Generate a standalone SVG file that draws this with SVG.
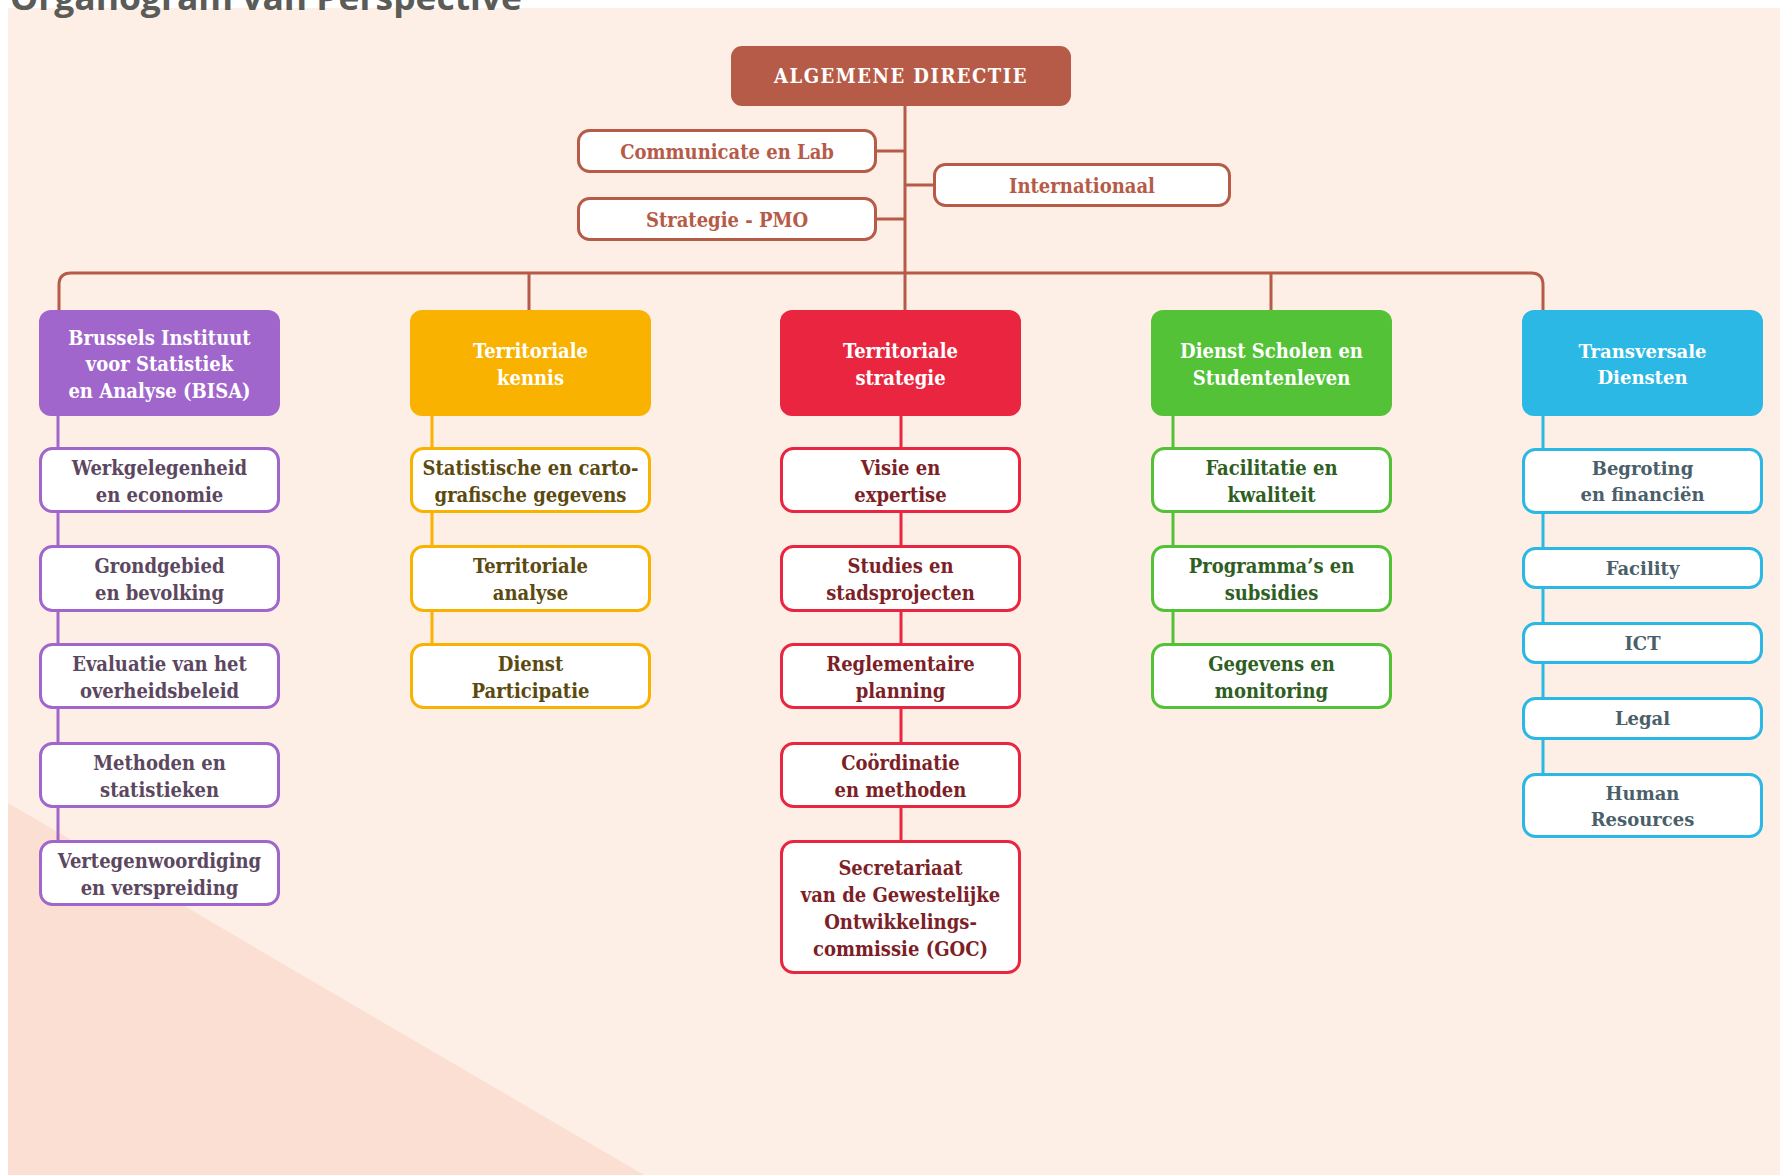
<svg xmlns="http://www.w3.org/2000/svg" width="1780" height="1175" viewBox="0 0 1780 1175">
<style>
.t{font-family:'DejaVu Serif Condensed','DejaVu Serif',serif;font-stretch:condensed;font-weight:bold;text-anchor:middle;font-size:20px}
.tw{font-family:'DejaVu Serif',serif;font-weight:bold;text-anchor:middle;font-size:18px}
.wh{fill:#ffffff}
.br{fill:#b65b47}
.sb{fill:#ffffff;stroke-width:3}
.lnk{fill:none;stroke-width:3}
.pu{stroke:#a066cc}.puT{fill:#5c4760}.puF{fill:#a066cc}
.or{stroke:#f9b200}.orT{fill:#5b4a10}.orF{fill:#f9b200}
.rd{stroke:#ea2540}.rdT{fill:#7d1f27}.rdF{fill:#ea2540}
.gr{stroke:#53c236}.grT{fill:#2f5e22}.grF{fill:#53c236}
.bl{stroke:#2bb8e4}.blT{fill:#4b5f6a}.blF{fill:#2bb8e4}
.bn{stroke:#b65b47}
</style>
<rect x="0" y="0" width="1780" height="1175" fill="#ffffff"/>
<rect x="8" y="8" width="1772" height="1167" fill="#fdeee6"/>
<polygon points="8,803 644,1175 8,1175" fill="#fbdfd3"/>
<text x="10" y="9.5" font-family="'Open Sans',sans-serif" font-weight="bold" font-size="34" fill="#5b5b57" textLength="512" lengthAdjust="spacingAndGlyphs">Organogram van Perspective</text>

<g id="connectors">
<path class="lnk bn" d="M905,106 V310 M877,151 H905 M905,185 H933 M877,219 H905 M529,273 V310 M1271,273 V310 M59,310 V285 Q59,273 71,273 H1531 Q1543,273 1543,285 V310"/>
<path class="lnk pu" d="M58,416 V840"/>
<path class="lnk or" d="M432,416 V643"/>
<path class="lnk rd" d="M901,416 V840"/>
<path class="lnk gr" d="M1173,416 V643"/>
<path class="lnk bl" d="M1543,416 V773"/>
</g>

<g id="algemene-directie">
<rect x="731" y="46" width="340" height="60" rx="11" fill="#b65b47"/>
<text class="t wh" x="901" y="83" font-size="19" letter-spacing="1.5">ALGEMENE DIRECTIE</text>
</g>
<g id="communicate">
<rect class="sb bn" x="578.5" y="130.5" width="297" height="41" rx="11"/>
<text class="t br" x="727" y="159">Communicate en Lab</text>
</g>
<g id="strategie-pmo">
<rect class="sb bn" x="578.5" y="198.5" width="297" height="41" rx="11"/>
<text class="t br" x="727" y="227">Strategie - PMO</text>
</g>
<g id="internationaal">
<rect class="sb bn" x="934.5" y="164.5" width="295" height="41" rx="11"/>
<text class="t br" x="1082" y="193">Internationaal</text>
</g>

<!-- Column 1 -->
<g id="bisa">
<rect class="puF" x="39" y="310" width="241" height="106" rx="12"/>
<text class="t wh" x="159.5" y="345">Brussels Instituut</text>
<text class="t wh" x="159.5" y="371">voor Statistiek</text>
<text class="t wh" x="159.5" y="398">en Analyse (BISA)</text>
</g>
<g id="werkgelegenheid">
<rect class="sb pu" x="40.5" y="448.5" width="238" height="63" rx="12"/>
<text class="t puT" x="159.5" y="475">Werkgelegenheid</text>
<text class="t puT" x="159.5" y="502">en economie</text>
</g>
<g id="grondgebied">
<rect class="sb pu" x="40.5" y="546.5" width="238" height="64" rx="12"/>
<text class="t puT" x="159.5" y="573">Grondgebied</text>
<text class="t puT" x="159.5" y="600">en bevolking</text>
</g>
<g id="evaluatie">
<rect class="sb pu" x="40.5" y="644.5" width="238" height="63" rx="12"/>
<text class="t puT" x="159.5" y="671">Evaluatie van het</text>
<text class="t puT" x="159.5" y="698">overheidsbeleid</text>
</g>
<g id="methoden">
<rect class="sb pu" x="40.5" y="743.5" width="238" height="63" rx="12"/>
<text class="t puT" x="159.5" y="770">Methoden en</text>
<text class="t puT" x="159.5" y="797">statistieken</text>
</g>
<g id="vertegenwoordiging">
<rect class="sb pu" x="40.5" y="841.5" width="238" height="63" rx="12"/>
<text class="t puT" x="159.5" y="868">Vertegenwoordiging</text>
<text class="t puT" x="159.5" y="895">en verspreiding</text>
</g>

<!-- Column 2 -->
<g id="territoriale-kennis">
<rect class="orF" x="410" y="310" width="241" height="106" rx="12"/>
<text class="t wh" x="530.5" y="358">Territoriale</text>
<text class="t wh" x="530.5" y="385">kennis</text>
</g>
<g id="statistische">
<rect class="sb or" x="411.5" y="448.5" width="238" height="63" rx="12"/>
<text class="t orT" x="530.5" y="475">Statistische en carto-</text>
<text class="t orT" x="530.5" y="502">grafische gegevens</text>
</g>
<g id="territoriale-analyse">
<rect class="sb or" x="411.5" y="546.5" width="238" height="64" rx="12"/>
<text class="t orT" x="530.5" y="573">Territoriale</text>
<text class="t orT" x="530.5" y="600">analyse</text>
</g>
<g id="dienst-participatie">
<rect class="sb or" x="411.5" y="644.5" width="238" height="63" rx="12"/>
<text class="t orT" x="530.5" y="671">Dienst</text>
<text class="t orT" x="530.5" y="698">Participatie</text>
</g>

<!-- Column 3 -->
<g id="territoriale-strategie">
<rect class="rdF" x="780" y="310" width="241" height="106" rx="12"/>
<text class="t wh" x="900.5" y="358">Territoriale</text>
<text class="t wh" x="900.5" y="385">strategie</text>
</g>
<g id="visie">
<rect class="sb rd" x="781.5" y="448.5" width="238" height="63" rx="12"/>
<text class="t rdT" x="900.5" y="475">Visie en</text>
<text class="t rdT" x="900.5" y="502">expertise</text>
</g>
<g id="studies">
<rect class="sb rd" x="781.5" y="546.5" width="238" height="64" rx="12"/>
<text class="t rdT" x="900.5" y="573">Studies en</text>
<text class="t rdT" x="900.5" y="600">stadsprojecten</text>
</g>
<g id="reglementaire">
<rect class="sb rd" x="781.5" y="644.5" width="238" height="63" rx="12"/>
<text class="t rdT" x="900.5" y="671">Reglementaire</text>
<text class="t rdT" x="900.5" y="698">planning</text>
</g>
<g id="coordinatie">
<rect class="sb rd" x="781.5" y="743.5" width="238" height="63" rx="12"/>
<text class="t rdT" x="900.5" y="770">Coördinatie</text>
<text class="t rdT" x="900.5" y="797">en methoden</text>
</g>
<g id="secretariaat">
<rect class="sb rd" x="781.5" y="841.5" width="238" height="131" rx="12"/>
<text class="t rdT" x="900.5" y="875">Secretariaat</text>
<text class="t rdT" x="900.5" y="902">van de Gewestelijke</text>
<text class="t rdT" x="900.5" y="929">Ontwikkelings-</text>
<text class="t rdT" x="900.5" y="956">commissie (GOC)</text>
</g>

<!-- Column 4 -->
<g id="dienst-scholen">
<rect class="grF" x="1151" y="310" width="241" height="106" rx="12"/>
<text class="t wh" x="1271.5" y="358">Dienst Scholen en</text>
<text class="t wh" x="1271.5" y="385">Studentenleven</text>
</g>
<g id="facilitatie">
<rect class="sb gr" x="1152.5" y="448.5" width="238" height="63" rx="12"/>
<text class="t grT" x="1271.5" y="475">Facilitatie en</text>
<text class="t grT" x="1271.5" y="502">kwaliteit</text>
</g>
<g id="programmas">
<rect class="sb gr" x="1152.5" y="546.5" width="238" height="64" rx="12"/>
<text class="t grT" x="1271.5" y="573">Programma’s en</text>
<text class="t grT" x="1271.5" y="600">subsidies</text>
</g>
<g id="gegevens">
<rect class="sb gr" x="1152.5" y="644.5" width="238" height="63" rx="12"/>
<text class="t grT" x="1271.5" y="671">Gegevens en</text>
<text class="t grT" x="1271.5" y="698">monitoring</text>
</g>

<!-- Column 5 -->
<g id="transversale">
<rect class="blF" x="1522" y="310" width="241" height="106" rx="12"/>
<text class="tw wh" x="1642.5" y="358">Transversale</text>
<text class="tw wh" x="1642.5" y="384">Diensten</text>
</g>
<g id="begroting">
<rect class="sb bl" x="1523.5" y="449.5" width="238" height="63" rx="12"/>
<text class="tw blT" x="1642.5" y="475">Begroting</text>
<text class="tw blT" x="1642.5" y="501">en financiën</text>
</g>
<g id="facility">
<rect class="sb bl" x="1523.5" y="548.5" width="238" height="39" rx="12"/>
<text class="tw blT" x="1642.5" y="575">Facility</text>
</g>
<g id="ict">
<rect class="sb bl" x="1523.5" y="623.5" width="238" height="39" rx="12"/>
<text class="tw blT" x="1642.5" y="650">ICT</text>
</g>
<g id="legal">
<rect class="sb bl" x="1523.5" y="698.5" width="238" height="40" rx="12"/>
<text class="tw blT" x="1642.5" y="725">Legal</text>
</g>
<g id="human-resources">
<rect class="sb bl" x="1523.5" y="774.5" width="238" height="62" rx="12"/>
<text class="tw blT" x="1642.5" y="800">Human</text>
<text class="tw blT" x="1642.5" y="826">Resources</text>
</g>
</svg>
